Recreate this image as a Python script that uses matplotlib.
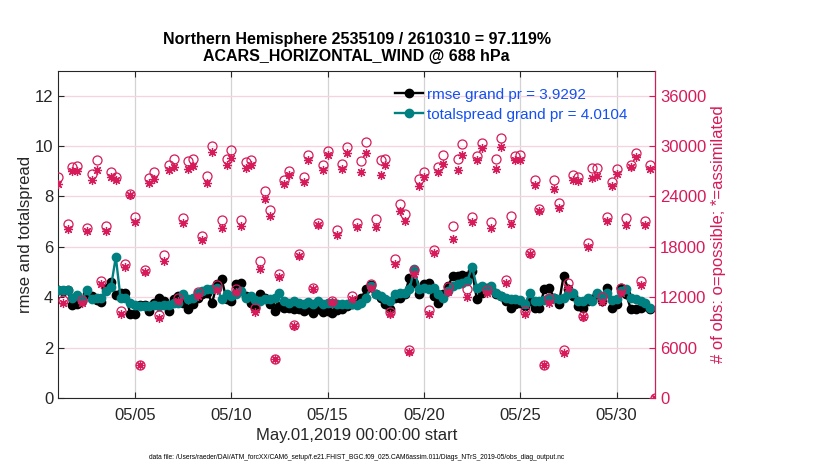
import numpy as np
import pandas as pd
import matplotlib
matplotlib.use("Agg")
import matplotlib.pyplot as plt
import matplotlib.dates as mdates

plt.rcParams['font.family'] = ['Liberation Sans', 'DejaVu Sans']

# 6-hourly bins, May 01 00Z .. Jun 01 00Z
times = pd.date_range("2019-05-01 00:00", periods=125, freq="6h")

rmse = [4.28, 4.26, 4.30, 3.68, 3.72, 3.85, 4.11, 4.05, 3.89, 3.81,
        4.38, 4.60, 4.07, 4.18, 4.18, 3.32, 3.32, 3.68, 3.68, 3.45,
        3.76, 3.98, 3.85, 3.45, 3.91, 4.05, 3.78, 3.52, 3.72, 3.98,
        4.11, 4.18, 3.78, 4.51, 4.71, 3.91, 3.85, 4.51, 4.57, 4.05,
        3.78, 3.62, 4.11, 3.98, 3.72, 3.45, 3.65, 3.58, 3.58, 3.55,
        3.52, 3.45, 3.52, 3.39, 3.55, 3.42, 3.45, 3.39, 3.50, 3.55,
        3.65, 3.72, 3.85, 3.98, 4.31, 4.47, 4.11, 3.98, 3.72, 3.52,
        3.98, 3.98, 4.11, 4.77, 4.57, 4.11, 4.51, 4.57, 4.05, 3.78,
        4.11, 4.44, 4.84, 4.84, 4.90, 4.84, 5.04, 3.91, 4.18, 4.38,
        4.31, 4.11, 4.05, 3.85, 3.58, 3.72, 3.78, 3.65, 3.85, 3.58,
        3.58, 4.31, 4.38, 3.98, 3.72, 4.84, 4.31, 4.05, 3.65, 3.58,
        3.85, 3.91, 4.11, 3.85, 4.38, 3.58, 3.72, 4.38, 4.11, 3.52,
        3.52, 3.58, 3.65, 3.52]

totalspread = [4.28, 4.27, 4.30, 3.98, 4.10, 3.90, 4.27, 3.92, 3.95, 3.98,
               4.23, 4.40, 5.60, 3.95, 3.95, 3.77, 3.70, 3.67, 3.67, 3.67,
               3.68, 3.67, 3.68, 3.70, 3.77, 3.76, 4.11, 3.91, 3.98, 4.18,
               4.24, 4.34, 4.31, 4.38, 3.91, 4.11, 4.05, 4.11, 4.24, 3.98,
               4.05, 3.89, 3.85, 3.91, 3.91, 3.98, 4.18, 3.85, 3.78, 3.85,
               3.78, 3.72, 3.80, 3.72, 3.85, 3.72, 3.76, 3.78, 3.72, 3.72,
               3.72, 3.72, 3.68, 3.78, 3.98, 4.44, 4.11, 4.05, 3.91, 3.85,
               4.11, 4.18, 4.18, 4.31, 5.13, 4.31, 4.38, 4.31, 4.38, 4.11,
               3.98, 4.24, 4.44, 4.53, 4.57, 4.64, 5.21, 4.38, 4.44, 4.31,
               4.44, 4.18, 4.05, 3.98, 3.91, 3.91, 3.89, 3.72, 4.18, 3.85,
               3.85, 3.89, 3.98, 3.98, 3.91, 3.98, 4.11, 4.18, 3.85, 3.85,
               3.98, 3.85, 4.18, 4.05, 4.18, 3.89, 3.91, 4.24, 4.31, 3.98,
               3.91, 3.85, 3.78, 3.58]

nposs = [26370, 11670, 20760, 27480, 27600, 11670, 20280, 26700, 28290, 13920,
         20460, 26970, 26370, 10350, 15900, 24330, 21510, 3960, 15240, 26220,
         26970, 9840, 17010, 27690, 28470, 11880, 21450, 28170, 28470, 12570,
         19350, 26460, 30000, 13440, 21240, 28470, 29550, 12960, 21150, 28050,
         28350, 10680, 16290, 24600, 22350, 4620, 14760, 25980, 27090, 8700,
         17100, 26310, 28980, 13050, 20880, 27750, 29460, 11580, 20040, 27870,
         29940, 12150, 20880, 28170, 30540, 13530, 21270, 28290, 28410, 10200,
         16500, 23070, 21870, 5730, 15240, 26100, 26970, 10470, 17670, 27480,
         28950, 13170, 20460, 28470, 30270, 12960, 21570, 28860, 30390, 12840,
         20910, 28410, 30960, 14040, 21630, 28860, 28980, 10410, 17280, 25920,
         22560, 3960, 11940, 25980, 23250, 5730, 13710, 26610, 26370, 9780,
         18480, 27420, 27360, 12060, 21570, 25710, 27300, 13050, 21450, 27750,
         29190, 13950, 21030, 27750, 0]

nused = [25500, 11280, 20160, 27000, 27090, 11280, 19890, 25920, 27210, 13620,
         19860, 26370, 25920, 9960, 15630, 24120, 20970, 3960, 15000, 25590,
         26100, 9480, 16320, 27180, 27480, 11550, 20880, 27300, 27570, 12180,
         18780, 25620, 29340, 12840, 20250, 27690, 28590, 12660, 20460, 27420,
         27750, 10200, 15420, 23730, 21720, 4620, 14370, 25500, 26580, 8580,
         16890, 25710, 28290, 12930, 20580, 27180, 28950, 11400, 19380, 27300,
         29190, 11790, 20370, 26970, 29160, 13050, 20370, 26580, 27690, 10020,
         15930, 22260, 21030, 5460, 14820, 25200, 26370, 10020, 17280, 26880,
         27810, 12660, 18900, 27180, 28980, 12060, 20970, 28290, 29790, 12540,
         20280, 27300, 29850, 13650, 20760, 28290, 28290, 10020, 17130, 25320,
         22320, 3870, 11340, 24840, 22650, 5340, 13050, 25920, 25800, 9690,
         18000, 26220, 26490, 11460, 21030, 25200, 26700, 12540, 20580, 27480,
         28740, 13440, 20580, 27300, 0]

rmse_label = "rmse grand pr = 3.9292"
spread_label = "totalspread grand pr = 4.0104"

crimson = "#d61a5a"
teal = "#008080"

fig = plt.figure(figsize=(8.3, 4.7), dpi=100)
ax = fig.add_axes([0.0699, 0.1532, 0.7193, 0.6968])
ax2 = ax.twinx()

# rmse / spread on left axis
h1, = ax.plot(times[:len(rmse)], rmse, '-o', color='black', lw=1.7, ms=6,
              label=rmse_label, zorder=3)
h2, = ax.plot(times[:len(totalspread)], totalspread, '-o', color=teal, lw=1.7,
              ms=6, label=spread_label, zorder=4)

# obs counts on right axis
ax2.plot(times, nposs, 'o', mfc='none', mec=crimson, ms=6.5, mew=0.9, zorder=5)
ax2.plot(times, nused, marker=(8, 2, 0), ls='none', color=crimson, ms=6.5,
         mew=0.9, zorder=5)

ax.set_xlim(pd.Timestamp("2019-05-01"), pd.Timestamp("2019-06-01"))
ax.set_ylim(0, 13)
ax.set_yticks(np.arange(0, 13, 2))
ax2.set_ylim(0, 39000)
ax2.set_yticks(np.arange(0, 36001, 6000))

xt = pd.to_datetime(["2019-05-05", "2019-05-10", "2019-05-15",
                     "2019-05-20", "2019-05-25", "2019-05-30"])
ax.set_xticks(xt)
ax.xaxis.set_major_formatter(mdates.DateFormatter("%m/%d"))

ax.grid(axis='x', color='#d3d3d3', lw=0.9)
ax.grid(axis='y', color='#f6d3de', lw=0.9)
ax.set_axisbelow(True)

ax.tick_params(axis='both', direction='in', length=4, labelsize=12,
               top=True, colors='#262626')
ax.tick_params(axis='x', pad=7)
ax2.tick_params(axis='y', direction='in', length=4, labelsize=12,
                colors=crimson)
for s in ['left', 'top', 'bottom']:
    ax.spines[s].set_color('#262626')
ax2.spines['right'].set_color(crimson)
ax2.spines['left'].set_visible(False)
ax2.spines['top'].set_visible(False)
ax2.spines['bottom'].set_visible(False)

ax.set_ylabel("rmse and totalspread", fontsize=12, color='#262626',
              va='center')
ax.yaxis.set_label_coords(-0.054, 0.5)
ax2.set_ylabel("# of obs: o=possible; *=assimilated", fontsize=12,
               color=crimson, rotation=90, va='center')
ax2.yaxis.set_label_coords(1.107, 0.5)
ax.set_xlabel("May.01,2019 00:00:00 start", fontsize=12, color='#262626',
              labelpad=4)
ax.set_title("Northern Hemisphere 2535109 / 2610310 = 97.119%\n"
             "ACARS_HORIZONTAL_WIND @ 688 hPa", fontsize=11.5,
             fontweight='bold', pad=7, linespacing=1.15)

leg = ax2.legend(handles=[h1, h2], loc='upper left',
                 bbox_to_anchor=(0.565, 0.948), frameon=False, fontsize=11,
                 handlelength=1.8, handletextpad=0.3, borderpad=0,
                 borderaxespad=0, labelspacing=0.4)
for t in leg.get_texts():
    t.set_color('#1450f0')

fig.text(0.43, 0.027, "data file: /Users/raeder/DAI/ATM_forcXX/CAM6_setup/"
         "f.e21.FHIST_BGC.f09_025.CAM6assim.011/Diags_NTrS_2019-05/"
         "obs_diag_output.nc", fontsize=4.8, ha='center', va='center')

fig.savefig("out.png", dpi=100)
